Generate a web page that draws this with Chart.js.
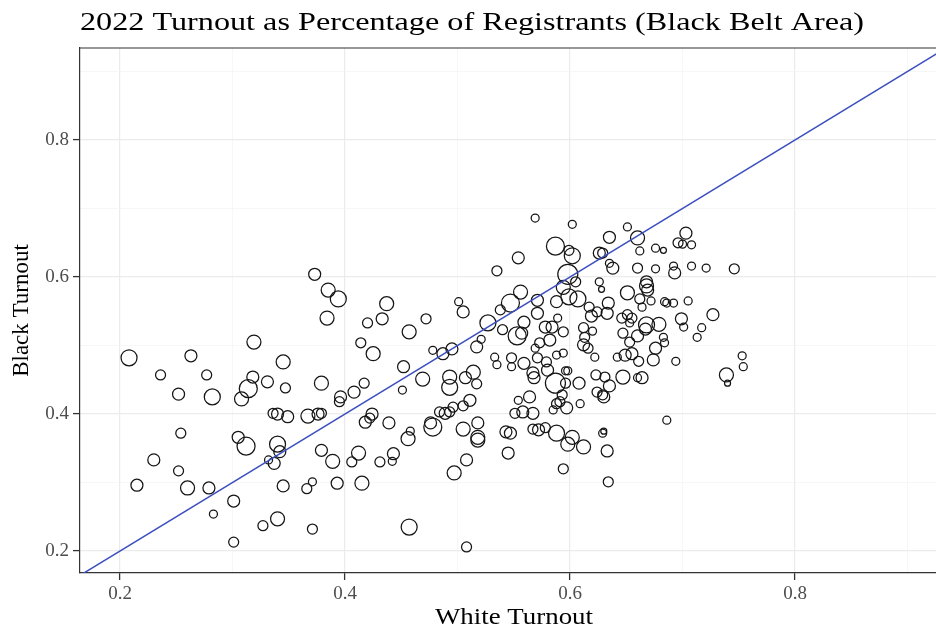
<!DOCTYPE html>
<html>
<head>
<meta charset="utf-8">
<script src="https://cdn.jsdelivr.net/npm/chart.js@4.4.1/dist/chart.umd.min.js"></script>
<style>
  html, body { margin: 0; padding: 0; background: #fff; }
  #wrap { width: 936px; height: 629px; }
</style>
</head>
<body>
<div id="wrap"><canvas id="myChart"></canvas></div>
<script>
// text
const chartTitle = "2022 Turnout as Percentage of Registrants (Black Belt Area)";
const xTitle = "White Turnout";
const yTitle = "Black Turnout";

// axes
const tickValues = [0.2, 0.3, 0.4, 0.5, 0.6, 0.7, 0.8, 0.9];
const tickLabels = ["0.2", "0.4", "0.6", "0.8"];
const xRange = [0.1644, 0.9253];
const yRange = [0.1679, 0.9343];
const refLine = [0.1, 1.0]; // y = x

// data: one entry per county / precinct
const whiteTurnout = [
  0.373, 0.385, 0.394, 0.384, 0.319, 0.208, 0.263, 0.345, 0.236, 0.277,
  0.318, 0.331, 0.379, 0.252, 0.282, 0.314, 0.308, 0.347, 0.396, 0.395,
  0.336, 0.340, 0.349, 0.367, 0.376, 0.379, 0.254, 0.305, 0.312, 0.340,
  0.342, 0.332, 0.337, 0.379, 0.389, 0.230, 0.252, 0.215, 0.260, 0.279,
  0.345, 0.366, 0.371, 0.393, 0.301, 0.283, 0.340, 0.327, 0.371, 0.301,
  0.554, 0.535, 0.437, 0.501, 0.505, 0.556, 0.547, 0.538, 0.571, 0.433,
  0.420, 0.472, 0.457, 0.527, 0.540, 0.553, 0.559, 0.571, 0.414, 0.425,
  0.478, 0.487, 0.495, 0.517, 0.521, 0.533, 0.535, 0.548, 0.548, 0.559,
  0.569, 0.571, 0.567, 0.568, 0.452, 0.469, 0.493, 0.493, 0.507, 0.514,
  0.517, 0.417, 0.408, 0.451, 0.564, 0.554, 0.484, 0.489, 0.493, 0.496,
  0.505, 0.511, 0.424, 0.422, 0.551, 0.558, 0.567, 0.418, 0.439, 0.458,
  0.456, 0.476, 0.478, 0.505, 0.518, 0.518, 0.518, 0.543, 0.547, 0.545,
  0.567, 0.572, 0.406, 0.412, 0.431, 0.443, 0.442, 0.508, 0.497, 0.415,
  0.457, 0.508, 0.569, 0.602, 0.651, 0.703, 0.696, 0.700, 0.708, 0.635,
  0.660, 0.587, 0.599, 0.602, 0.626, 0.629, 0.662, 0.676, 0.683, 0.635,
  0.638, 0.660, 0.676, 0.692, 0.693, 0.708, 0.721, 0.746, 0.598, 0.594,
  0.605, 0.626, 0.628, 0.599, 0.607, 0.588, 0.651, 0.668, 0.668, 0.669,
  0.662, 0.664, 0.672, 0.684, 0.686, 0.692, 0.705, 0.617, 0.634, 0.633,
  0.619, 0.624, 0.646, 0.651, 0.655, 0.653, 0.727, 0.699, 0.701, 0.717,
  0.713, 0.557, 0.578, 0.584, 0.589, 0.594, 0.612, 0.613, 0.620, 0.647,
  0.653, 0.660, 0.668, 0.667, 0.679, 0.683, 0.573, 0.582, 0.612, 0.616,
  0.684, 0.753, 0.754, 0.739, 0.740, 0.694, 0.676, 0.674, 0.661, 0.664,
  0.660, 0.647, 0.642, 0.649, 0.655, 0.623, 0.631, 0.635, 0.624, 0.629,
  0.630, 0.609, 0.608, 0.597, 0.591, 0.588, 0.585, 0.593, 0.587, 0.596,
  0.596, 0.598, 0.580, 0.579, 0.588, 0.594, 0.622, 0.686, 0.578, 0.588,
  0.602, 0.598, 0.612, 0.629, 0.630, 0.633, 0.594, 0.634
];
const blackTurnout = [
  0.604, 0.581, 0.568, 0.540, 0.505, 0.482, 0.485, 0.476, 0.457, 0.457,
  0.454, 0.447, 0.445, 0.429, 0.425, 0.437, 0.422, 0.438, 0.425, 0.418,
  0.401, 0.400, 0.396, 0.397, 0.400, 0.401, 0.372, 0.366, 0.353, 0.356,
  0.345, 0.333, 0.328, 0.347, 0.331, 0.333, 0.317, 0.296, 0.292, 0.292,
  0.295, 0.291, 0.301, 0.299, 0.273, 0.254, 0.247, 0.237, 0.232, 0.213,
  0.628, 0.609, 0.561, 0.564, 0.549, 0.578, 0.562, 0.552, 0.566, 0.539,
  0.533, 0.539, 0.520, 0.533, 0.523, 0.514, 0.534, 0.547, 0.504, 0.488,
  0.493, 0.488, 0.495, 0.498, 0.509, 0.483, 0.472, 0.482, 0.469, 0.474,
  0.496, 0.482, 0.460, 0.453, 0.469, 0.451, 0.454, 0.439, 0.453, 0.461,
  0.444, 0.445, 0.432, 0.435, 0.425, 0.420, 0.403, 0.401, 0.403, 0.410,
  0.412, 0.420, 0.400, 0.394, 0.401, 0.403, 0.401, 0.388, 0.387, 0.375,
  0.364, 0.387, 0.381, 0.378, 0.387, 0.366, 0.362, 0.374, 0.372, 0.343,
  0.378, 0.377, 0.330, 0.343, 0.330, 0.342, 0.331, 0.333, 0.314, 0.299,
  0.235, 0.206, 0.686, 0.677, 0.673, 0.664, 0.650, 0.648, 0.647, 0.658,
  0.657, 0.645, 0.639, 0.631, 0.635, 0.635, 0.638, 0.642, 0.639, 0.620,
  0.613, 0.613, 0.612, 0.616, 0.606, 0.616, 0.613, 0.612, 0.604, 0.585,
  0.593, 0.593, 0.582, 0.571, 0.568, 0.564, 0.577, 0.593, 0.587, 0.581,
  0.568, 0.556, 0.565, 0.564, 0.562, 0.562, 0.565, 0.556, 0.562, 0.547,
  0.543, 0.549, 0.540, 0.545, 0.540, 0.533, 0.545, 0.539, 0.527, 0.526,
  0.512, 0.518, 0.527, 0.527, 0.540, 0.520, 0.526, 0.512, 0.521, 0.518,
  0.505, 0.514, 0.530, 0.524, 0.531, 0.512, 0.504, 0.508, 0.501, 0.496,
  0.504, 0.485, 0.469, 0.457, 0.445, 0.477, 0.496, 0.479, 0.477, 0.453,
  0.453, 0.454, 0.483, 0.486, 0.488, 0.457, 0.454, 0.441, 0.432, 0.428,
  0.425, 0.415, 0.445, 0.409, 0.418, 0.415, 0.406, 0.428, 0.445, 0.445,
  0.463, 0.463, 0.464, 0.476, 0.486, 0.489, 0.483, 0.391, 0.380, 0.372,
  0.366, 0.356, 0.352, 0.372, 0.375, 0.346, 0.320, 0.301
];
const pointSize = [
  6, 7, 8, 7, 7, 8, 6, 7, 5, 5,
  6, 6, 7, 6, 8, 9, 7, 5, 6, 5,
  5, 6, 6, 7, 6, 5, 5, 6, 9, 8,
  6, 4, 6, 6, 7, 6, 5, 6, 7, 6,
  6, 5, 4, 6, 6, 4, 7, 5, 5, 5,
  6, 5, 7, 4, 6, 7, 9, 5, 6, 6,
  5, 5, 7, 8, 5, 9, 6, 6, 5, 7,
  4, 6, 6, 6, 4, 4, 4, 5, 4, 6,
  4, 5, 6, 6, 6, 7, 7, 8, 6, 7,
  5, 5, 6, 4, 6, 4, 5, 6, 5, 5,
  5, 6, 6, 5, 5, 6, 6, 6, 6, 4,
  7, 6, 9, 7, 6, 7, 7, 6, 6, 6,
  5, 6, 5, 7, 5, 6, 4, 6, 7, 7,
  8, 5, 4, 4, 4, 6, 5, 4, 4, 6,
  7, 9, 5, 8, 6, 5, 4, 4, 3, 4,
  6, 5, 4, 4, 6, 4, 4, 5, 10, 7,
  5, 4, 3, 8, 8, 6, 7, 6, 7, 6,
  5, 4, 4, 4, 4, 4, 4, 5, 6, 6,
  6, 5, 5, 5, 5, 4, 6, 6, 4, 4,
  4, 6, 6, 6, 4, 5, 5, 5, 4, 5,
  5, 6, 8, 6, 7, 4, 5, 6, 6, 5,
  4, 4, 4, 7, 3, 4, 6, 6, 5, 6,
  4, 7, 4, 6, 6, 5, 5, 6, 5, 5,
  6, 4, 6, 6, 5, 5, 4, 5, 10, 5,
  4, 4, 6, 5, 4, 4, 4, 4, 5, 8,
  7, 7, 7, 4, 3, 6, 5, 5
];

const isMajor = (v) => tickLabels.includes(v.toFixed(1));

// titles + top frame line (ggplot panel border)
function drawStretched(ctx, text, x, y, width, align) {
  const w = ctx.measureText(text).width;
  const sx = width / w;
  ctx.save();
  ctx.translate(x, y);
  ctx.scale(sx, 1);
  ctx.textAlign = align;
  ctx.fillText(text, 0, 0);
  ctx.restore();
}

const frameAndTitles = {
  id: "frameAndTitles",
  afterDraw(chart) {
    const { ctx, chartArea: { left, right, top } } = chart;
    ctx.save();
    ctx.strokeStyle = "#333333";
    ctx.lineWidth = 1.2;
    ctx.beginPath();
    ctx.moveTo(left, top);
    ctx.lineTo(right, top);
    ctx.stroke();

    ctx.fillStyle = "#000";
    ctx.textBaseline = "alphabetic";
    ctx.font = '25px "Liberation Serif"';
    drawStretched(ctx, chartTitle, left, 30, 784, "left");
    ctx.font = '23px "Liberation Serif"';
    drawStretched(ctx, xTitle, 514, 624, 158, "center");
    ctx.restore();
  },
};

const gridOpts = {
  color: (c) => (c.tick && isMajor(c.tick.value) ? "#ebebeb" : "#f3f3f3"),
  lineWidth: (c) => (c.tick && isMajor(c.tick.value) ? 1.2 : 0.7),
  tickColor: (c) => (c.tick && isMajor(c.tick.value) ? "#333333" : "rgba(0,0,0,0)"),
  tickWidth: 1.3,
  tickLength: 7,
};

const tickFont = { family: "Liberation Serif", size: 19 };

const config = {
  type: "bubble",
  data: {
    datasets: [
      {
        type: "line",
        data: refLine.map((v) => ({ x: v, y: v })),
        borderColor: "#3c4fbf",
        borderWidth: 1.5,
        pointRadius: 0,
        clip: 0,
      },
      {
        data: whiteTurnout.map((x, i) => ({ x, y: blackTurnout[i], r: pointSize[i] })),
        backgroundColor: "rgba(0,0,0,0)",
        borderColor: "#151515",
        borderWidth: 1.25,
        hoverRadius: 0,
      },
    ],
  },
  options: {
    responsive: true,
    maintainAspectRatio: false,
    animation: false,
    layout: { autoPadding: false, padding: { top: 48, left: 0, right: 0, bottom: 0 } },
    scales: {
      x: {
        type: "linear",
        min: xRange[0],
        max: xRange[1],
        afterBuildTicks: (scale) => { scale.ticks = tickValues.map((v) => ({ value: v })); },
        afterFit: (scale) => { scale.height = 56; },
        ticks: {
          autoSkip: false,
          maxRotation: 0,
          padding: 3,
          color: "#4d4d4d",
          font: tickFont,
          callback: (v) => (isMajor(v) ? v.toFixed(1) : ""),
        },
        grid: gridOpts,
        border: { color: "#333333", width: 1.2 },
      },
      y: {
        type: "linear",
        min: yRange[0],
        max: yRange[1],
        afterBuildTicks: (scale) => { scale.ticks = tickValues.map((v) => ({ value: v })); },
        afterFit: (scale) => { scale.width = 80; },
        ticks: {
          autoSkip: false,
          padding: 4,
          color: "#4d4d4d",
          font: tickFont,
          callback: (v) => (isMajor(v) ? v.toFixed(1) : ""),
        },
        title: {
          display: true,
          text: yTitle,
          color: "#000",
          font: { family: "Liberation Serif", size: 23 },
          padding: { top: 8, bottom: 0 },
        },
        grid: gridOpts,
        border: { color: "#333333", width: 1.2 },
      },
    },
    plugins: {
      legend: { display: false },
      tooltip: { enabled: false },
    },
  },
  plugins: [frameAndTitles],
};

const myChart = new Chart(document.getElementById("myChart"), config);
</script>
</body>
</html>
